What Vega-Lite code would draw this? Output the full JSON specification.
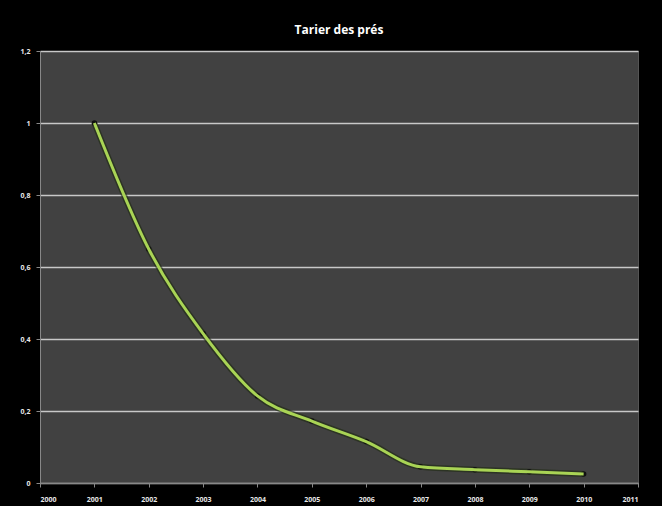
{
  "$schema": "https://vega.github.io/schema/vega-lite/v6.json",
  "width": 598,
  "height": 432,
  "autosize": {"type": "none"},
  "padding": {"left": 40, "top": 51, "right": 24, "bottom": 23},
  "background": "#000000",
  "title": {
    "text": "Tarier des prés",
    "color": "#ffffff",
    "font": "Open Sans",
    "fontSize": 12,
    "fontWeight": "bold",
    "anchor": "middle",
    "baseline": "bottom",
    "offset": -2
  },
  "data": {
    "values": [
      {"annee": 2001, "valeur": 1.0},
      {"annee": 2002, "valeur": 0.65},
      {"annee": 2003, "valeur": 0.415},
      {"annee": 2004, "valeur": 0.242},
      {"annee": 2005, "valeur": 0.172},
      {"annee": 2006, "valeur": 0.115},
      {"annee": 2007, "valeur": 0.045},
      {"annee": 2008, "valeur": 0.037},
      {"annee": 2009, "valeur": 0.031},
      {"annee": 2010, "valeur": 0.025}
    ]
  },
  "encoding": {
    "x": {
      "field": "annee",
      "type": "quantitative",
      "scale": {"domain": [2000, 2011], "nice": false, "zero": false},
      "axis": {
        "title": null,
        "values": [2000, 2001, 2002, 2003, 2004, 2005, 2006, 2007, 2008, 2009, 2010, 2011],
        "format": "d",
        "grid": false,
        "domainColor": "#888888",
        "tickColor": "#888888",
        "tickSize": 4,
        "labelColor": "#e8e8e8",
        "labelFontSize": 7,
        "labelFontWeight": "bold",
        "labelFont": "Open Sans",
        "labelPadding": 8
      }
    },
    "y": {
      "field": "valeur",
      "type": "quantitative",
      "scale": {"domain": [0, 1.2], "nice": false},
      "axis": {
        "title": null,
        "values": [0, 0.2, 0.4, 0.6, 0.8, 1, 1.2],
        "labelExpr": "replace(format(datum.value, '.1~f'), '.', ',')",
        "grid": true,
        "gridColor": "#c8c8c8",
        "gridWidth": 1.5,
        "domainColor": "#888888",
        "tickColor": "#888888",
        "tickSize": 4,
        "labelColor": "#e8e8e8",
        "labelFontSize": 7,
        "labelFontWeight": "bold",
        "labelFont": "Open Sans",
        "labelPadding": 6
      }
    }
  },
  "layer": [
    {
      "mark": {"type": "line", "interpolate": "monotone", "color": "#1e2a10", "strokeWidth": 6, "opacity": 0.6}
    },
    {
      "mark": {"type": "point", "filled": true, "color": "#111111", "size": 30, "opacity": 1}
    },
    {
      "mark": {"type": "line", "interpolate": "monotone", "color": "#a9d455", "strokeWidth": 3}
    }
  ],
  "config": {
    "view": {"fill": "#414141", "stroke": "#555555"}
  }
}
